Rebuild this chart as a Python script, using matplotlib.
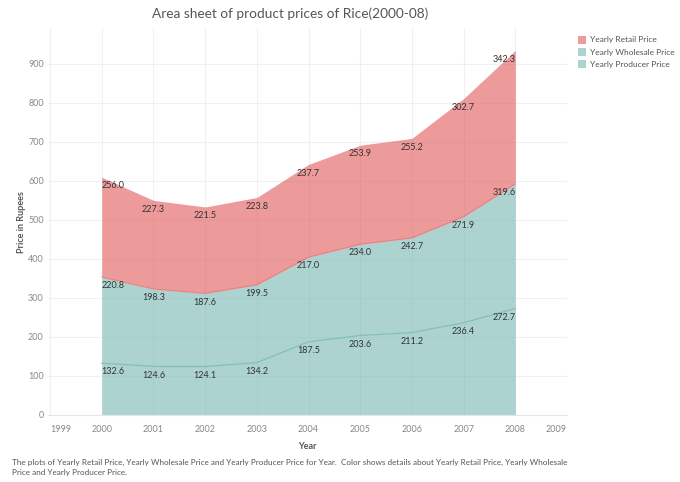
import matplotlib.pyplot as plt
import numpy as np
from matplotlib.patches import Patch

plt.rcParams['font.family'] = ['Lato', 'DejaVu Sans']

# data
years = [2000, 2001, 2002, 2003, 2004, 2005, 2006, 2007, 2008]
retail = [256.0, 227.3, 221.5, 223.8, 237.7, 253.9, 255.2, 302.7, 342.3]
wholesale = [220.8, 198.3, 187.6, 199.5, 217.0, 234.0, 242.7, 271.9, 319.6]
producer = [132.6, 124.6, 124.1, 134.2, 187.5, 203.6, 211.2, 236.4, 272.7]
series_names = ["Yearly Retail Price", "Yearly Wholesale Price", "Yearly Producer Price"]
xticks = list(range(1999, 2010))
yticks = list(range(0, 1000, 100))

red = "#e15759"
teal = "#76b7b2"

x = np.array(years)
p = np.array(producer)
w = p + np.array(wholesale)
r = w + np.array(retail)

fig = plt.figure(figsize=(6.8, 4.82), dpi=100)
ax = fig.add_axes([48 / 680, 67 / 482, (567 - 48) / 680, (415 - 28) / 482])

ax.fill_between(x, 0, p, color=teal, alpha=0.6, lw=0)
ax.fill_between(x, p, w, color=teal, alpha=0.6, lw=0)
ax.fill_between(x, w, r, color=red, alpha=0.6, lw=0)
ax.plot(x, p, color=teal, alpha=0.7, lw=1)
ax.plot(x, w, color=red, alpha=0.35, lw=1)

# value labels just under the top of each band
for tops, vals in [(r, retail), (w, wholesale), (p, producer)]:
    for i, (xx, yy, v) in enumerate(zip(x, tops, vals)):
        ha = "center"
        if i == 0:
            ha = "left"
        elif i == len(x) - 1:
            ha = "right"
        ax.annotate(f"{v:.1f}", (xx, yy), xytext=(0, -3), textcoords="offset points",
                    ha=ha, va="top", fontsize=6.5, color="#333333")

ax.set_xlim(1998.96, 2009.0)
ax.set_ylim(0, 992)
ax.set_xticks(xticks)
ax.set_yticks(yticks)
ax.tick_params(length=0, labelsize=6.5, labelcolor="#888888")
ax.tick_params(axis="x", pad=7)
ax.tick_params(axis="y", pad=3)
labels = ax.get_xticklabels()
labels[0].set_ha("left")
labels[-1].set_ha("right")
ax.grid(True, color="#f0f0f0", lw=0.8)
ax.set_axisbelow(True)
for s in ["top", "right", "left"]:
    ax.spines[s].set_visible(False)
ax.spines["bottom"].set_color("#e6e6e6")

ax.set_xlabel("Year", fontsize=6.5, fontweight="bold", color="#555555", labelpad=6)
fig.text(22 / 680, 1 - 222 / 482, "Price in Rupees", rotation=90, ha="center", va="center",
         fontsize=6.5, fontweight="bold", color="#555555")

fig.text(290 / 680, 1 - 14 / 482, "Area sheet of product prices of Rice(2000-08)",
         ha="center", va="center", fontsize=9.8, color="#555555")

handles = [Patch(facecolor=red, alpha=0.6), Patch(facecolor=teal, alpha=0.6), Patch(facecolor=teal, alpha=0.6)]
fig.legend(handles, series_names, loc="upper left", bbox_to_anchor=(570 / 680, 1 - 28 / 482),
           frameon=False, fontsize=6, labelcolor="#555555", handlelength=1.0, handleheight=1.1,
           handletextpad=0.5, labelspacing=0.5)

fig.text(12 / 680, 1 - 459 / 482,
         "The plots of Yearly Retail Price, Yearly Wholesale Price and Yearly Producer Price for Year.  "
         "Color shows details about Yearly Retail Price, Yearly Wholesale\nPrice and Yearly Producer Price.",
         ha="left", va="top", fontsize=5.9, color="#555555", linespacing=1.5)

fig.savefig("out.png", dpi=100)
